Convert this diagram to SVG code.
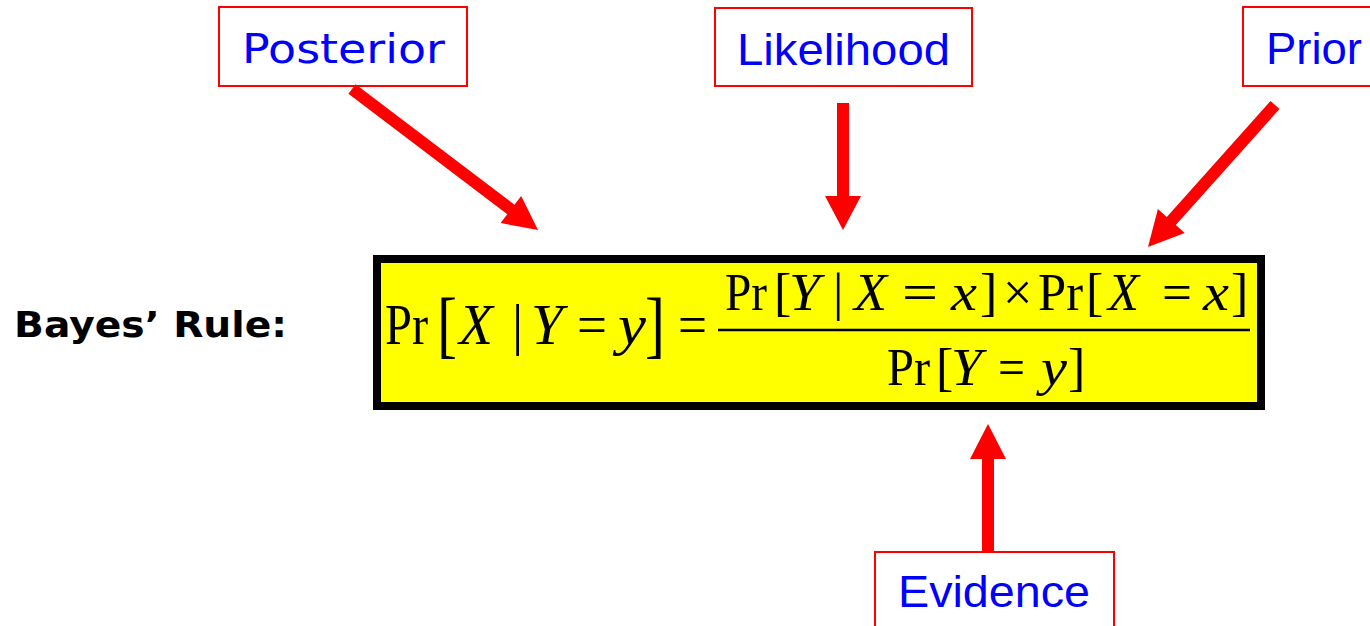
<svg xmlns="http://www.w3.org/2000/svg" width="1370" height="626" viewBox="0 0 1370 626">
<style>
.lbl{fill:#fff;stroke:#ff0000;stroke-width:2}
.comic{font-family:"Comic Sans MS","DejaVu Sans","Noto Sans",sans-serif;fill:#0000ff;font-size:40px}
.arial{font-family:"Liberation Sans",Arial,sans-serif;fill:#0000ff;font-size:45px}
.arrow{fill:#ff0000}
.m{font-family:"Liberation Serif","Times New Roman",serif;fill:#000}
.i{font-style:italic}
.big{font-size:56px}
.sm{font-size:52px}
</style>
<rect width="1370" height="626" fill="#fff"/>
<g id="bayes-label">
<text x="14" y="337" font-family="'Comic Sans MS','DejaVu Sans',sans-serif" font-weight="bold" font-size="36" fill="#000" textLength="273" lengthAdjust="spacingAndGlyphs">Bayes’ Rule:</text>
</g>
<g id="posterior">
<rect class="lbl" x="219" y="7" width="248" height="79"/>
<text class="comic" x="242" y="63" textLength="203" lengthAdjust="spacingAndGlyphs">Posterior</text>
</g>
<g id="likelihood">
<rect class="lbl" x="715" y="8" width="257" height="78"/>
<text class="arial" x="737" y="65" textLength="213" lengthAdjust="spacingAndGlyphs">Likelihood</text>
</g>
<g id="prior">
<rect class="lbl" x="1243" y="7" width="140" height="79"/>
<text class="arial" x="1266" y="64" textLength="96" lengthAdjust="spacingAndGlyphs">Prior</text>
</g>
<g id="evidence">
<rect class="lbl" x="875" y="552" width="239" height="90"/>
<text class="arial" x="898" y="607" textLength="192" lengthAdjust="spacingAndGlyphs">Evidence</text>
</g>
<g id="formula">
<rect x="377" y="259" width="884" height="147" fill="#ffff00" stroke="#000" stroke-width="8"/>
<g class="m big">
<text x="385" y="344" textLength="43" lengthAdjust="spacingAndGlyphs">Pr</text>
<text x="437" y="349" font-size="74" textLength="20" lengthAdjust="spacingAndGlyphs">[</text>
<text class="i" x="459" y="344" textLength="34" lengthAdjust="spacingAndGlyphs">X</text>
<text x="512" y="344">|</text>
<text class="i" x="531" y="344" textLength="32" lengthAdjust="spacingAndGlyphs">Y</text>
<text x="577" y="344" textLength="30" lengthAdjust="spacingAndGlyphs">=</text>
<text class="i" x="618" y="344" textLength="28" lengthAdjust="spacingAndGlyphs">y</text>
<text x="645" y="349" font-size="74" textLength="20" lengthAdjust="spacingAndGlyphs">]</text>
<text x="678" y="344" textLength="29" lengthAdjust="spacingAndGlyphs">=</text>
</g>
<line x1="718" y1="330" x2="1250" y2="330" stroke="#000" stroke-width="2.5"/>
<g class="m sm">
<text x="725" y="310" textLength="42" lengthAdjust="spacingAndGlyphs">Pr</text>
<text x="774" y="310">[</text>
<text class="i" x="789" y="310" textLength="31" lengthAdjust="spacingAndGlyphs">Y</text>
<text x="833" y="310">|</text>
<text class="i" x="854" y="310" textLength="33" lengthAdjust="spacingAndGlyphs">X</text>
<text x="902" y="310" textLength="36" lengthAdjust="spacingAndGlyphs">=</text>
<text class="i" x="951" y="310" textLength="26" lengthAdjust="spacingAndGlyphs">x</text>
<text x="980" y="310">]</text>
<text x="1003" y="310">×</text>
<text x="1038" y="310" textLength="45" lengthAdjust="spacingAndGlyphs">Pr</text>
<text x="1086" y="310">[</text>
<text class="i" x="1108" y="310" textLength="31" lengthAdjust="spacingAndGlyphs">X</text>
<text x="1162" y="310" textLength="30" lengthAdjust="spacingAndGlyphs">=</text>
<text class="i" x="1203" y="310" textLength="26" lengthAdjust="spacingAndGlyphs">x</text>
<text x="1231" y="310">]</text>
<text x="887" y="385" textLength="43" lengthAdjust="spacingAndGlyphs">Pr</text>
<text x="936" y="385">[</text>
<text class="i" x="951" y="385" textLength="31" lengthAdjust="spacingAndGlyphs">Y</text>
<text x="998" y="385" textLength="27" lengthAdjust="spacingAndGlyphs">=</text>
<text class="i" x="1041" y="385" textLength="26" lengthAdjust="spacingAndGlyphs">y</text>
<text x="1068" y="385">]</text>
</g>
</g>
<g id="connectors">
<polygon class="arrow" points="355.6,84.2 514.5,204.7 521.2,196.0 538,230 500.6,223.0 507.3,214.3 348.4,93.8"/>
<polygon class="arrow" points="837,103 849,103 849,196 861,196 843,230 825,196 837,196"/>
<polygon class="arrow" points="1270.5,101.0 1166.8,216.9 1157.9,208.9 1148,247 1184.7,232.9 1175.8,224.9 1279.5,109.0"/>
<polygon class="arrow" points="982,552 994,552 994,459 1006,459 988,424 970,459 982,459"/>
</g>
</svg>
